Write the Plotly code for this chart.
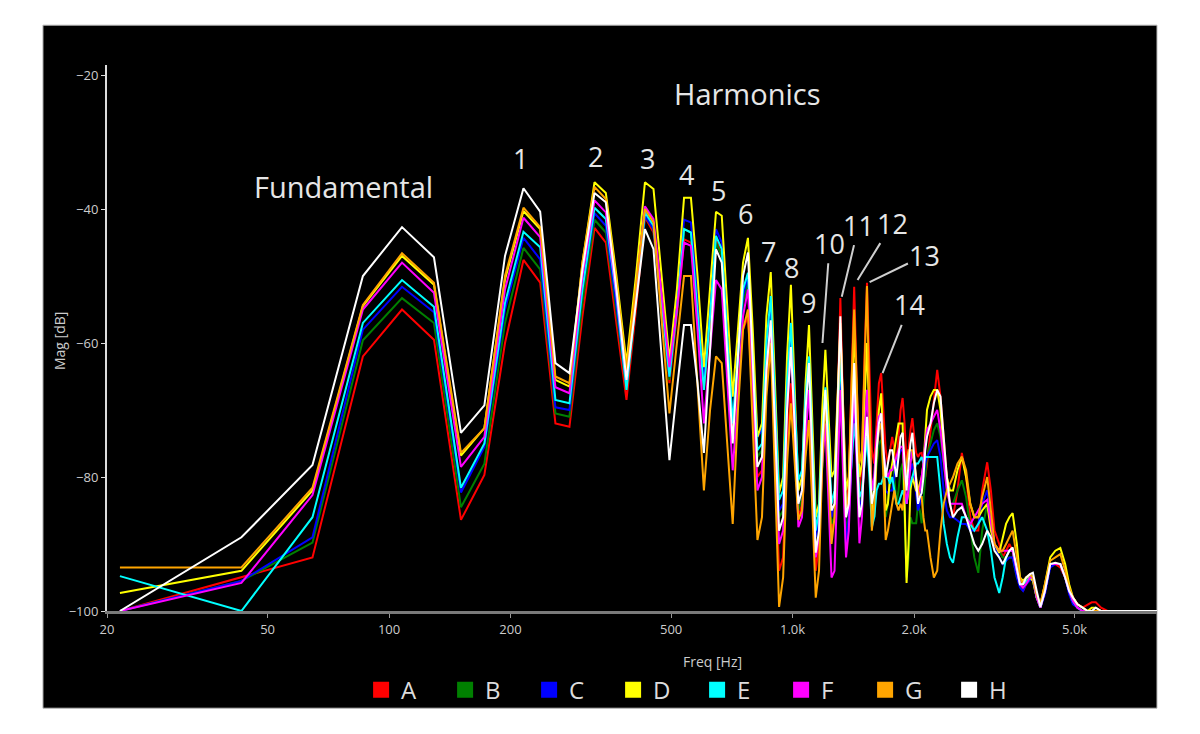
import math
import plotly.graph_objects as go

# FFT bin spacing (44.1 kHz, 2048 points)
BIN_HZ = 44100 / 2048

BINS = list(range(1, 101)) + [
    102, 104, 106, 108, 110,
    112, 114, 116, 119, 122,
    125, 128, 131, 134, 137,
    141, 144, 147, 151, 154,
    157, 160, 163, 167, 170,
    173, 176, 180, 183, 187,
    191, 196, 202, 208, 214,
    220, 225, 230, 236, 243,
    250, 256, 262, 270, 280,
    290, 372,
]

A_DB = [
    -100, -95, -92, -62, -55, -59.5, -86.4, -79.7, -60, -47.6,
    -51, -72, -72.5, -56, -42.8, -45, -57, -68.5, -55, -41.2,
    -43.5, -54, -66, -56, -44.5, -45, -55, -67, -57, -44.6,
    -47, -60, -73, -66, -58, -56, -68, -80, -79, -66,
    -59, -76, -94, -92, -76, -66, -76, -86, -84, -76,
    -71.5, -84, -94, -90, -78, -70, -80, -88, -86, -68,
    -53.3, -70, -84, -80, -64, -51.6, -66, -82, -78, -62,
    -51, -64, -76, -78, -72, -66, -64.5, -70, -76, -78,
    -76, -74, -76, -78, -74, -70, -68.2, -72, -78, -76,
    -73, -71.2, -74, -76.4, -77, -76.5, -76.4, -78, -80, -78,
    -73, -68, -64, -68, -74,
    -80, -84, -86, -82, -76.4,
    -80, -86, -88, -88, -82,
    -77.8, -82, -88, -90, -92,
    -91, -90, -91, -94, -96,
    -97, -96, -95, -95, -98,
    -99.5, -97, -93, -93, -93.5,
    -95, -97, -98, -99, -99.5,
    -99, -98.7, -98.7, -99.5, -100,
    -100, -100,
]

B_DB = [
    -100, -95.5, -89.8, -59.6, -53.3, -57, -84.5, -78, -57, -45.8,
    -49, -70.5, -71, -54, -41.6, -43.5, -55.5, -67, -53.5, -41,
    -43, -54, -65.5, -55, -43, -43.5, -54, -66, -56, -45,
    -47, -60, -72, -63, -54, -51, -64, -77, -76, -62,
    -55, -70, -86, -85, -68, -58, -70, -85, -83, -72,
    -64, -76, -88, -86, -78, -71.5, -78, -87, -86, -74,
    -64, -74, -88, -86, -76, -68, -76, -84, -82, -76,
    -72, -78, -84, -82, -78, -75, -74.5, -80, -86, -84,
    -80, -78, -80, -84, -82, -79, -78, -86, -95, -92,
    -86, -86.9, -86.9, -86.9, -84, -85, -86.9, -84, -80, -77,
    -75, -73, -72, -74, -78,
    -82, -84, -84, -82, -80.5,
    -83, -88, -92, -94.3, -88,
    -84, -86, -90, -91, -92,
    -92, -92, -92, -95, -96,
    -96, -95.5, -95, -95.5, -98,
    -99.5, -97, -93, -93, -93,
    -95, -97, -98.5, -99.5, -100,
    -100, -100, -100, -100, -100,
    -100, -100,
]

C_DB = [
    -100, -95.5, -89, -58, -51.6, -55.4, -82.3, -75.5, -55, -44.3,
    -47.5, -69.6, -70, -52, -40.6, -42.5, -54.5, -66.5, -53, -41,
    -43, -54, -65, -54, -41.6, -42, -53, -65.5, -55, -43,
    -45, -60, -72, -62, -53, -50, -62, -74, -73, -60,
    -54, -70, -85, -84, -68, -57, -70, -84, -82, -70,
    -63, -76, -89, -86, -75, -68, -76, -86, -84, -76,
    -66, -78, -90.4, -86, -78, -70.5, -78, -85, -83, -78,
    -73.4, -78, -82, -80, -76, -73, -72.5, -78, -82, -82.4,
    -82, -82, -80, -78, -77, -76, -76, -78, -80, -80,
    -79, -78, -80, -83, -85, -84, -82, -80, -78, -77,
    -76, -75, -74.5, -77, -82,
    -85, -86, -86, -86.5, -87,
    -87, -88, -88, -87, -84,
    -82, -86, -90, -92, -93,
    -92.5, -92, -92, -95, -96.5,
    -97, -96, -95.5, -95, -97.5,
    -99.5, -97.5, -93.5, -93, -93,
    -95, -97.5, -99, -99.5, -100,
    -100, -100, -100, -100, -100,
    -100, -100,
]

D_DB = [
    -97.3, -94, -82, -54.5, -47, -51.3, -76.8, -72.7, -50.5, -40.3,
    -43, -65.5, -66.5, -48, -36, -37.6, -50, -63, -50, -36,
    -37, -50, -62.5, -52, -38.3, -38.3, -50, -63.6, -52, -40.4,
    -41, -55, -68, -58, -48, -44.3, -58, -74, -72, -56,
    -49.4, -66, -82.4, -80, -62, -51.3, -66, -82, -80, -66,
    -57.3, -72, -86, -84, -70, -61, -70, -80, -79, -68,
    -58, -70, -82, -80, -68, -58, -68, -80, -78, -68,
    -60, -72, -84, -86, -76, -70, -67.5, -76, -85, -84,
    -80, -78, -76, -74, -72, -72, -72, -84, -95.8, -90,
    -82, -80, -81, -82, -82, -81, -80, -78, -74, -70,
    -68, -67, -67, -70, -76,
    -80, -82, -82, -79, -77,
    -80, -84, -86, -86, -85,
    -84, -88, -90, -91.3, -89,
    -87, -86, -85.4, -90, -95,
    -95.5, -95, -95, -95.5, -98,
    -99, -96, -92, -91, -90.6,
    -93, -96, -98, -99, -99.5,
    -100, -99.5, -99.5, -100, -100,
    -100, -100,
]

E_DB = [
    -94.8, -100, -86, -57, -50.6, -54.6, -81.6, -75, -54, -43.4,
    -45.7, -68.5, -69, -52, -39.8, -41.5, -53, -67, -53.5, -40.5,
    -42.5, -54, -65, -55, -43, -43.5, -55, -67, -56, -44,
    -46, -60, -72, -62, -52, -49.5, -62, -76, -75, -60,
    -53, -68, -83.4, -82, -66, -57, -68, -80.5, -79, -68,
    -62, -74, -88, -85, -74, -66.6, -74, -84, -82, -72,
    -62, -72, -85.4, -84, -78, -72, -76, -83, -82, -78,
    -74, -80, -87.5, -86, -82, -81, -81, -80, -80, -80,
    -81, -80, -82, -84, -84, -83, -82, -83, -84, -82,
    -81, -80, -79, -78, -78, -77.5, -77, -78, -77, -77,
    -77, -77, -77, -82, -87,
    -90, -92, -92.8, -89, -86,
    -86, -87, -88, -87, -86,
    -88, -91, -95, -97.3, -95,
    -92, -91, -91, -94, -96,
    -96, -95.5, -95, -95, -98,
    -99.5, -97, -93, -93, -93,
    -95, -97, -98.5, -99.5, -100,
    -100, -100, -100, -100, -100,
    -100, -100,
]

F_DB = [
    -100, -95.8, -82.7, -55, -48, -52.5, -78.5, -74, -52, -41.3,
    -44.2, -66.6, -67.5, -50, -38.7, -40.5, -52.5, -65.5, -52, -39.6,
    -41.5, -53, -63.6, -55, -45, -45.5, -58, -72, -61, -50.6,
    -52, -65, -79, -68, -56, -52, -66, -82, -80, -64,
    -57, -72, -90, -88, -70, -61, -72, -87.5, -86, -74,
    -67, -80, -92, -89, -78, -72, -84, -95, -94, -80,
    -67, -80, -92, -88, -76, -66, -78, -89.9, -86, -74,
    -67, -74, -82, -80, -74, -71, -70.5, -76, -79, -80,
    -79, -79, -78, -77, -76, -75.5, -75.5, -80, -84, -82,
    -78, -76, -78, -81, -83, -82, -80, -78, -75, -73,
    -72, -71, -70, -73, -78,
    -82, -84, -84, -84, -84,
    -86, -87, -86, -85, -84,
    -83.4, -87, -90, -91, -91,
    -91, -91, -91, -94, -96,
    -96.5, -96, -95, -95, -98,
    -99.5, -97, -93, -93, -93,
    -95, -97, -98.5, -99.5, -100,
    -100, -100, -100, -100, -100,
    -100, -100,
]

G_DB = [
    -93.5, -93.5, -81.6, -54.3, -46.6, -51, -76.4, -72.7, -50, -39.8,
    -42.7, -65, -66, -48, -36.7, -38.5, -51, -64, -51.5, -40,
    -42, -56, -70.5, -60, -50, -50, -66, -82, -70, -62,
    -63, -76, -87, -70, -58, -55, -72, -89.4, -86, -68,
    -60, -80, -99.4, -95, -78, -69, -78, -86.4, -85, -77,
    -71.5, -86, -98, -94, -78, -68, -78, -90, -86, -70,
    -57, -72, -86, -82, -66, -55, -66, -78, -76, -62,
    -51.5, -70, -88, -84, -76, -73, -72, -80, -89.4, -88,
    -86, -84, -82, -84, -85, -84, -85, -82, -78, -76,
    -76, -76, -78, -80, -82, -83, -83, -86, -88, -88,
    -92, -95, -94, -88, -84,
    -82, -81, -80, -78, -77,
    -79, -84, -86, -86, -83,
    -80, -85, -90, -91, -91,
    -90, -89, -88, -92, -95,
    -96, -95, -94.5, -95, -97.5,
    -99, -96, -92.5, -92, -91.5,
    -94, -96.5, -98, -99, -99.5,
    -100, -100, -100, -100, -100,
    -100, -100,
]

H_DB = [
    -100, -89, -78.2, -50, -42.7, -47.2, -73.4, -69.3, -47, -36.9,
    -40.4, -63, -64.5, -49, -37.6, -39, -52, -65.5, -54, -43,
    -46, -62, -77.5, -67, -57.3, -57.3, -66, -76.4, -61, -46,
    -48, -62, -75, -62, -50, -46.5, -62, -78.5, -77, -64,
    -56.6, -72, -88, -86, -70, -60.6, -72, -84, -82, -70,
    -63, -78, -91.3, -88, -75, -67, -76, -85, -84, -70,
    -56, -72, -86, -84, -72, -63, -76, -86, -84, -78,
    -71, -78, -84, -82, -76, -72, -70.5, -76, -80, -78,
    -76, -76, -78, -80, -77, -74, -73.4, -78, -82, -78,
    -75, -73.4, -77, -80, -84, -83, -82.4, -80, -76, -74,
    -72, -69, -67, -68, -74,
    -80, -84, -86, -85, -84.5,
    -86, -88, -90, -91, -90,
    -88, -89, -91, -92, -93,
    -92, -91, -90.5, -94, -96,
    -96, -95, -94.5, -94.3, -97,
    -99.4, -97, -93, -92.8, -93,
    -95, -97, -98, -99, -99.5,
    -100, -100, -99.5, -100, -100,
    -100, -100,
]

SERIES_NAMES = ["A", "B", "C", "D", "E", "F", "G", "H"]
SERIES_VALUES = [A_DB, B_DB, C_DB, D_DB, E_DB, F_DB, G_DB, H_DB]
SERIES_COLORS = ["#ff0000", "#008000", "#0000ff", "#ffff00",
                 "#00ffff", "#ff00ff", "#ffa500", "#ffffff"]

XTICK_VALS = [20, 50, 100, 200, 500, 1000, 2000, 5000]
XTICK_TEXT = ["20", "50", "100", "200", "500", "1.0k", "2.0k", "5.0k"]
YTICK_VALS = [-20, -40, -60, -80, -100]

# harmonic numbers: (label, label freq Hz, label dB, tip freq Hz, tip dB)
HARMONIC_LABELS = [
    ("1", 212, -32.4, None, None),
    ("2", 324, -32.1, None, None),
    ("3", 436, -32.5, None, None),
    ("4", 546, -34.8, None, None),
    ("5", 655, -37.2, None, None),
    ("6", 764, -40.7, None, None),
    ("7", 871, -46.4, None, None),
    ("8", 995, -48.8, None, None),
    ("9", 1096, -54.0, None, None),
    ("10", 1236, -45.1, 1186, -60.0),
    ("11", 1459, -42.4, 1324, -53.1),
    ("12", 1770, -42.1, 1449, -50.6),
    ("13", 2128, -46.9, 1552, -50.9),
    ("14", 1950, -54.3, 1671, -64.5),
]

for vals in SERIES_VALUES:
    assert len(vals) == len(BINS), len(vals)

freq_hz = [b * BIN_HZ for b in BINS]

FONT = "Open Sans"
TEXT_COLOR = "#e6e6e6"

fig = go.Figure()

for name, vals, color in zip(SERIES_NAMES, SERIES_VALUES, SERIES_COLORS):
    fig.add_trace(go.Scatter(
        x=freq_hz, y=vals, mode="lines", name=name,
        line=dict(color=color, width=2),
        showlegend=False, hoverinfo="skip",
    ))

# square legend swatches
for name, color in zip(SERIES_NAMES, SERIES_COLORS):
    fig.add_trace(go.Scatter(
        x=[None], y=[None], mode="markers", name=name,
        marker=dict(symbol="square", size=16, color=color),
    ))

annotations = [
    dict(x=math.log10(769), y=-22.7, text="Harmonics", showarrow=False,
         font=dict(size=29, color=TEXT_COLOR, family=FONT)),
    dict(x=math.log10(77.3), y=-36.7, text="Fundamental", showarrow=False,
         font=dict(size=29, color=TEXT_COLOR, family=FONT)),
    dict(xref="paper", yref="paper", x=0.577, y=-0.092, text="Freq [Hz]",
         xanchor="center", yanchor="middle", showarrow=False,
         font=dict(size=14, color="#cccccc", family=FONT)),
    dict(xref="paper", yref="paper", x=-0.045, y=0.494, text="Mag [dB]",
         xanchor="center", yanchor="middle", textangle=-90, showarrow=False,
         font=dict(size=14, color="#cccccc", family=FONT)),
]

for label, fx, fy, tx, ty in HARMONIC_LABELS:
    if tx is None:
        annotations.append(dict(
            x=math.log10(fx), y=fy, text=label, showarrow=False,
            font=dict(size=27, color=TEXT_COLOR, family=FONT)))
    else:
        annotations.append(dict(
            x=math.log10(tx), y=ty, text=label, showarrow=True,
            axref="x", ayref="y", ax=math.log10(fx), ay=fy,
            arrowhead=0, arrowwidth=2, arrowcolor="#cfcfcf", standoff=0,
            font=dict(size=27, color=TEXT_COLOR, family=FONT)))

# the page body keeps its 8px default margin, so the figure box is 1184x718
fig.update_layout(
    paper_bgcolor="white",
    plot_bgcolor="black",
    margin=dict(l=99, r=35, t=57, b=115),
    font=dict(family=FONT, color="#cccccc", size=13),
    showlegend=True,
    legend=dict(orientation="h", x=0.562, xanchor="center",
                y=-0.145, yanchor="middle",
                font=dict(size=24, color="#dddddd", family=FONT),
                bgcolor="rgba(0,0,0,0)", entrywidth=39),
    annotations=annotations,
    shapes=[dict(type="rect", xref="paper", yref="paper",
                 x0=-0.061, x1=1.0, y0=-0.178, y1=1.073,
                 fillcolor="black", line=dict(color="#bbbbbb", width=1),
                 layer="below")],
)

fig.update_xaxes(
    type="log", range=[math.log10(20), math.log10(8000)],
    tickvals=XTICK_VALS, ticktext=XTICK_TEXT,
    showgrid=False, zeroline=False,
    showline=True, linecolor="#7a7a7a", linewidth=3,
    ticks="outside", ticklen=4, tickcolor="#999999",
    tickfont=dict(size=13, color="#cccccc"),
)
fig.update_yaxes(
    range=[-100, -18.5], tickvals=YTICK_VALS,
    showgrid=False, zeroline=False,
    showline=True, linecolor="#dddddd", linewidth=2,
    ticks="outside", ticklen=4, tickcolor="#dddddd",
    tickfont=dict(size=13, color="#cccccc"),
)

fig.write_html("out.html")
